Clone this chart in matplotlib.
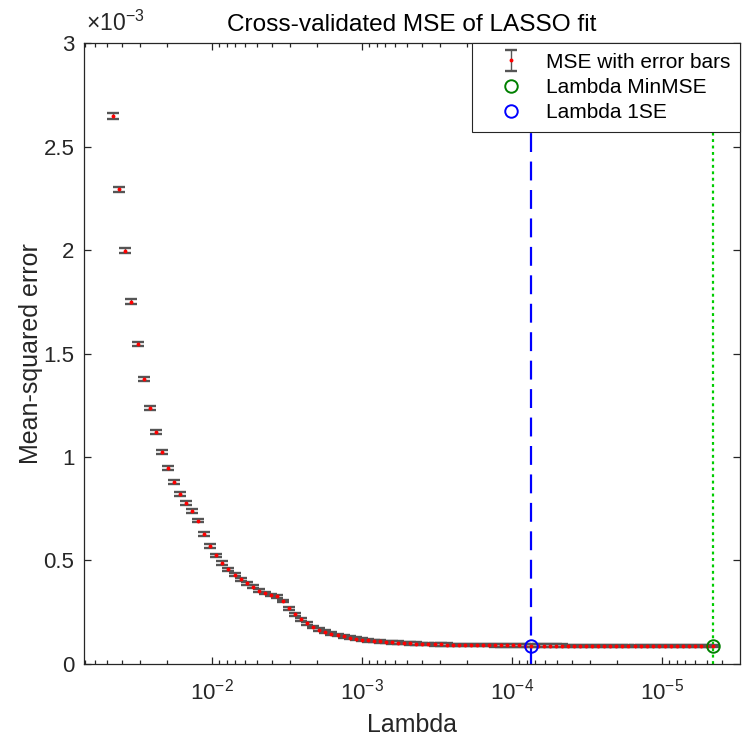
import numpy as np
import matplotlib
matplotlib.use("Agg")
import matplotlib.pyplot as plt
from matplotlib.ticker import MultipleLocator, FuncFormatter, LogLocator, NullFormatter, LogFormatterMathtext

plt.rcParams['font.family'] = ['Liberation Sans', 'DejaVu Sans']
plt.rcParams['mathtext.fontset'] = 'custom'
plt.rcParams['mathtext.rm'] = 'Liberation Sans'
plt.rcParams['mathtext.it'] = 'Liberation Sans:italic'
plt.rcParams['mathtext.bf'] = 'Liberation Sans:bold'

# Lasso path: 100 lambdas, geometric grid spanning four decades
lambda_max = 10 ** -1.342
lambda_ratio = 1e-4
num_lambda = 100
lambdas = np.geomspace(lambda_max, lambda_max * lambda_ratio, num_lambda)

# Cross-validated MSE along the path
mse = np.array([
    2.648e-3, 2.294e-3, 1.997e-3, 1.750e-3, 1.546e-3, 1.377e-3, 1.236e-3, 1.120e-3, 1.022e-3, 0.945e-3,
    0.877e-3, 0.822e-3, 0.776e-3, 0.737e-3, 0.692e-3, 0.626e-3, 0.569e-3, 0.524e-3, 0.487e-3, 0.456e-3,
    0.430e-3, 0.408e-3, 0.389e-3, 0.371e-3, 0.353e-3, 0.342e-3, 0.332e-3, 0.327e-3, 0.303e-3, 0.268e-3,
    0.239e-3, 0.215e-3, 0.195e-3, 0.177e-3, 0.164e-3, 0.155e-3, 0.145e-3, 0.138e-3, 0.132e-3, 0.126e-3,
    0.121e-3, 0.116e-3, 0.113e-3, 0.110e-3, 0.108e-3, 0.1055e-3, 0.1035e-3, 0.1015e-3, 0.0998e-3, 0.0983e-3,
    0.0970e-3, 0.0958e-3, 0.0947e-3, 0.0937e-3, 0.0929e-3, 0.0922e-3, 0.0916e-3, 0.0911e-3, 0.0906e-3, 0.0902e-3,
    0.0898e-3, 0.0895e-3, 0.0892e-3, 0.0889e-3, 0.0887e-3, 0.0885e-3, 0.0883e-3, 0.0881e-3, 0.0879e-3, 0.0877e-3,
    0.0875e-3, 0.0874e-3, 0.0873e-3, 0.0872e-3, 0.0871e-3, 0.0870e-3, 0.0869e-3, 0.0868e-3, 0.0868e-3, 0.0867e-3,
    0.0866e-3, 0.0866e-3, 0.0865e-3, 0.0865e-3, 0.0864e-3, 0.0864e-3, 0.0863e-3, 0.0863e-3, 0.0862e-3, 0.0862e-3,
    0.0862e-3, 0.0861e-3, 0.0861e-3, 0.0861e-3, 0.0860e-3, 0.0860e-3, 0.0860e-3, 0.0860e-3, 0.0859e-3, 0.0859e-3,
])

# Standard error of the cross-validated MSE
se = np.array([
    0.0128e-3, 0.0124e-3, 0.0120e-3, 0.0116e-3, 0.0113e-3, 0.0110e-3, 0.0107e-3, 0.0105e-3, 0.0103e-3, 0.0101e-3,
    0.0099e-3, 0.0097e-3, 0.0095e-3, 0.0093e-3, 0.0091e-3, 0.0089e-3, 0.0087e-3, 0.0085e-3, 0.0083e-3, 0.0081e-3,
    0.0079e-3, 0.0077e-3, 0.0075e-3, 0.0073e-3, 0.0072e-3, 0.0071e-3, 0.0070e-3, 0.0069e-3, 0.0068e-3, 0.0067e-3,
    0.0066e-3, 0.0065e-3, 0.0064e-3, 0.0063e-3, 0.0063e-3, 0.0062e-3, 0.0062e-3, 0.0061e-3, 0.0061e-3, 0.0061e-3,
    0.0060e-3, 0.0060e-3, 0.0060e-3, 0.0060e-3, 0.0059e-3, 0.0059e-3, 0.0059e-3, 0.0059e-3, 0.0059e-3, 0.0059e-3,
    0.0058e-3, 0.0058e-3, 0.0058e-3, 0.0058e-3, 0.0058e-3, 0.0058e-3, 0.0058e-3, 0.0058e-3, 0.0058e-3, 0.0058e-3,
    0.0058e-3, 0.0058e-3, 0.0058e-3, 0.0058e-3, 0.0058e-3, 0.0058e-3, 0.0058e-3, 0.0058e-3, 0.0058e-3, 0.0058e-3,
    0.0058e-3, 0.0058e-3, 0.0058e-3, 0.0058e-3, 0.0058e-3, 0.0058e-3, 0.0058e-3, 0.0058e-3, 0.0058e-3, 0.0058e-3,
    0.0058e-3, 0.0058e-3, 0.0058e-3, 0.0058e-3, 0.0058e-3, 0.0058e-3, 0.0058e-3, 0.0058e-3, 0.0058e-3, 0.0058e-3,
    0.0058e-3, 0.0058e-3, 0.0058e-3, 0.0058e-3, 0.0058e-3, 0.0058e-3, 0.0058e-3, 0.0058e-3, 0.0058e-3, 0.0058e-3,
])

idx_min_mse = 99
idx_1se = 69

axis_color = '#262626'

fig = plt.figure(figsize=(7.43, 7.39), dpi=100)
ax = fig.add_axes([0.1131, 0.1019, 0.8829, 0.8395])
ax.set_xscale('log')

# Error bars with red dots at each lambda
eb = ax.errorbar(lambdas, mse, yerr=se, fmt='o', color='red', ms=2.8, mec='none',
                 ecolor='#555555', elinewidth=1.0, capsize=4.3, capthick=1.7,
                 label='MSE with error bars', zorder=3)

# Vertical reference lines at Lambda MinMSE and Lambda 1SE
ax.axvline(lambdas[idx_min_mse], color=(0, 0.8, 0), lw=1.6, dashes=(1.3, 1.6), zorder=2)
ax.axvline(lambdas[idx_1se], color='blue', lw=1.6, dashes=(8.5, 4.3), zorder=2)

h_min, = ax.plot(lambdas[idx_min_mse], mse[idx_min_mse], 'o', mfc='none', mec=(0, 0.5, 0), ms=9, mew=1.4,
                 label='Lambda MinMSE', zorder=4)
h_1se, = ax.plot(lambdas[idx_1se], mse[idx_1se], 'o', mfc='none', mec='blue', ms=9, mew=1.4,
                 label='Lambda 1SE', zorder=4)

ax.set_xlim(10 ** -1.147, 10 ** -5.52)
ax.set_ylim(0, 3e-3)

ax.yaxis.set_major_locator(MultipleLocator(0.5e-3))
ax.yaxis.set_major_formatter(FuncFormatter(lambda v, p: f'{v / 1e-3:g}'))
ax.xaxis.set_major_locator(LogLocator(base=10, numticks=20))
ax.xaxis.set_major_formatter(LogFormatterMathtext())
ax.xaxis.set_minor_locator(LogLocator(base=10, subs=np.arange(2, 10), numticks=20))
ax.xaxis.set_minor_formatter(NullFormatter())

ax.tick_params(axis='both', which='major', direction='in', length=5, width=0.9,
               top=True, right=True, labelsize=16, colors=axis_color, pad=7)
ax.tick_params(axis='x', which='minor', direction='in', length=2.6, width=0.9,
               top=True, colors=axis_color)
ax.tick_params(axis='x', which='major', pad=11)
for s in ax.spines.values():
    s.set_color(axis_color)
    s.set_linewidth(0.9)

ax.text(0.003, 1.012, r'$\times10^{-3}$', transform=ax.transAxes, fontsize=16.5,
        color=axis_color, ha='left', va='bottom')

ax.set_title('Cross-validated MSE of LASSO fit', fontsize=17.6, color='black', pad=9)
ax.set_xlabel('Lambda', fontsize=18, color=axis_color, labelpad=6)
ax.set_ylabel('Mean-squared error', fontsize=18, color=axis_color, labelpad=0)

leg = ax.legend([eb, h_min, h_1se], ['MSE with error bars', 'Lambda MinMSE', 'Lambda 1SE'],
                loc='upper right', fontsize=15, frameon=True, fancybox=False,
                edgecolor=axis_color, framealpha=1, borderaxespad=0.0, handlelength=2.85,
                handletextpad=0.25, labelspacing=0.3, borderpad=0.45)
leg.get_frame().set_linewidth(0.8)
leg.set_zorder(10)

fig.savefig('out.png', dpi=100, facecolor='white')
